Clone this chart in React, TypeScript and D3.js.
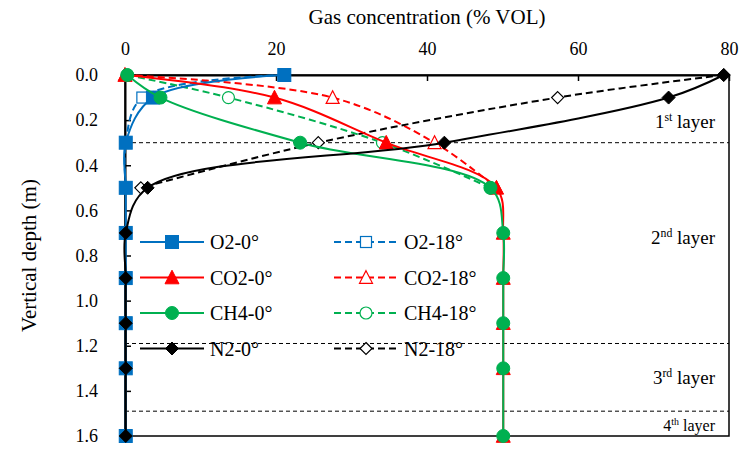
import { useEffect, useRef } from 'react'
import * as d3 from 'd3'

// depths (m) where samples were taken
const depths0 = [0, 0.1, 0.3, 0.5, 0.7, 0.9, 1.1, 1.3, 1.6]
const depths18 = [0, 0.1, 0.3, 0.5]

// 0° series (% VOL)
const o2_0 = [21.1, 3.7, 0.1, 0.1, 0.1, 0.1, 0.1, 0.1, 0.1]
const co2_0 = [0, 19.8, 34.6, 49.2, 50.1, 50.1, 50.1, 50.1, 50.1]
const ch4_0 = [0.3, 4.7, 23.2, 48.4, 50.1, 50.1, 50.1, 50.1, 50.1]
const n2_0 = [79.3, 72.0, 42.3, 3.0, 0.1, 0.1, 0.1, 0.1, 0.1]

// 18° series (% VOL)
const o2_18 = [21.1, 2.3, 0.1, 0.1]
const co2_18 = [0, 27.5, 41.0, 49.2]
const ch4_18 = [0.3, 13.7, 34.1, 48.4]
const n2_18 = [79.3, 57.3, 25.6, 2.1]

const xTicks = [0, 20, 40, 60, 80]
const yTicks = [0, 0.2, 0.4, 0.6, 0.8, 1.0, 1.2, 1.4, 1.6]
const layerBounds = [0.3, 1.19, 1.49]

type Shape = 'square' | 'triangle' | 'circle' | 'diamond'
interface Series { name: string; depth: number[]; values: number[]; color: string; shape: Shape; filled: boolean }

const BLUE = '#0070C0'
const RED = '#FF0000'
const GREEN = '#00B050'
const BLACK = '#000000'
const FONT = "'Liberation Serif', 'Times New Roman', Times, serif"

const series: Series[] = [
  { name: 'O2-18°', depth: depths18, values: o2_18, color: BLUE, shape: 'square', filled: false },
  { name: 'CO2-18°', depth: depths18, values: co2_18, color: RED, shape: 'triangle', filled: false },
  { name: 'CH4-18°', depth: depths18, values: ch4_18, color: GREEN, shape: 'circle', filled: false },
  { name: 'N2-18°', depth: depths18, values: n2_18, color: BLACK, shape: 'diamond', filled: false },
  { name: 'O2-0°', depth: depths0, values: o2_0, color: BLUE, shape: 'square', filled: true },
  { name: 'CO2-0°', depth: depths0, values: co2_0, color: RED, shape: 'triangle', filled: true },
  { name: 'CH4-0°', depth: depths0, values: ch4_0, color: GREEN, shape: 'circle', filled: true },
  { name: 'N2-0°', depth: depths0, values: n2_0, color: BLACK, shape: 'diamond', filled: true },
]

const legendOrder = ['O2-0°', 'O2-18°', 'CO2-0°', 'CO2-18°', 'CH4-0°', 'CH4-18°', 'N2-0°', 'N2-18°']

function drawMarker(g: any, s: Series, x: number, y: number) {
  const fill = s.filled ? s.color : '#fff'
  const sw = s.filled ? 1 : 1.2
  if (s.shape === 'square') {
    const a = s.filled ? 13 : 11
    g.append('rect').attr('x', x - a / 2).attr('y', y - a / 2).attr('width', a).attr('height', a)
      .attr('fill', fill).attr('stroke', s.color).attr('stroke-width', sw)
  } else if (s.shape === 'circle') {
    g.append('circle').attr('cx', x).attr('cy', y).attr('r', s.filled ? 6.5 : 6)
      .attr('fill', fill).attr('stroke', s.color).attr('stroke-width', sw)
  } else if (s.shape === 'triangle') {
    const a = s.filled ? 14 : 13
    const h = a * 0.9
    g.append('path').attr('d', `M${x},${y - h / 2 - 1}L${x + a / 2},${y + h / 2}L${x - a / 2},${y + h / 2}Z`)
      .attr('fill', fill).attr('stroke', s.color).attr('stroke-width', sw)
  } else {
    const r = s.filled ? 6.5 : 6
    g.append('path').attr('d', `M${x},${y - r}L${x + r},${y}L${x},${y + r}L${x - r},${y}Z`)
      .attr('fill', fill).attr('stroke', s.color).attr('stroke-width', sw)
  }
}

function Chart() {
  const svgRef = useRef<SVGSVGElement>(null)

  useEffect(() => {
    if (!svgRef.current) return
    const svg = d3.select(svgRef.current)
    svg.selectAll('*').remove()

    const W = 742
    const H = 449
    const margin = { top: 75, right: 13, bottom: 13, left: 125 }
    const w = W - margin.left - margin.right
    const h = H - margin.top - margin.bottom

    const x = d3.scaleLinear().domain([0, 80]).range([0, w])
    const y = d3.scaleLinear().domain([0, 1.6]).range([0, h])

    const g = svg.append('g').attr('transform', `translate(${margin.left},${margin.top})`)

    // frame
    g.append('rect').attr('width', w).attr('height', h).attr('fill', 'none').attr('stroke', '#000').attr('stroke-width', 1.5)

    // layer boundaries
    layerBounds.forEach((d) => {
      g.append('line').attr('x1', 0).attr('x2', w).attr('y1', y(d)).attr('y2', y(d))
        .attr('stroke', '#000').attr('stroke-width', 1).attr('stroke-dasharray', '4,3')
    })

    // top axis, ticks pointing inward
    const xAxis = d3.axisTop(x).tickValues(xTicks).tickSizeInner(-6).tickSizeOuter(0).tickPadding(20)
      .tickFormat((d) => `${d}`)
    const xa = g.append('g').call(xAxis).attr('font-family', null)
    xa.select('.domain').attr('stroke-width', 2)
    xa.selectAll('line').attr('stroke-width', 1.5)
    xa.selectAll('text').style('font-family', FONT).style('font-size', '18px').attr('fill', '#000')

    // left axis
    const yAxis = d3.axisLeft(y).tickValues(yTicks).tickSizeInner(-6).tickSizeOuter(0).tickPadding(27)
      .tickFormat((d) => (+d).toFixed(1))
    const ya = g.append('g').call(yAxis).attr('font-family', null)
    ya.select('.domain').attr('stroke-width', 2)
    ya.selectAll('line').attr('stroke-width', 1.5)
    ya.selectAll('text').style('font-family', FONT).style('font-size', '18px').attr('fill', '#000')

    // axis titles
    svg.append('text').attr('x', margin.left + w / 2).attr('y', 24).attr('text-anchor', 'middle')
      .style('font-family', FONT).style('font-size', '21px').text('Gas concentration (% VOL)')
    svg.append('text').attr('transform', `translate(36,${margin.top + h / 2}) rotate(-90)`).attr('text-anchor', 'middle')
      .style('font-family', FONT).style('font-size', '21px').text('Vertical depth (m)')

    // layer labels
    const layers = [
      { n: '1', sup: 'st', at: 0.235, size: 19 },
      { n: '2', sup: 'nd', at: 0.75, size: 19 },
      { n: '3', sup: 'rd', at: 1.37, size: 19 },
      { n: '4', sup: 'th', at: 1.578, size: 16 },
    ]
    layers.forEach((l) => {
      const t = g.append('text').attr('x', w - 14).attr('y', y(l.at)).attr('text-anchor', 'end')
        .style('font-family', FONT).style('font-size', `${l.size}px`)
      t.append('tspan').text(l.n)
      t.append('tspan').style('font-size', `${l.size * 0.62}px`).attr('dy', -l.size * 0.38).text(l.sup)
      t.append('tspan').attr('dy', l.size * 0.38).text(' layer')
    })

    // series: smoothed lines with markers
    const line = d3.line<[number, number]>().x((d) => x(d[0])).y((d) => y(d[1])).curve(d3.curveCatmullRom.alpha(0.5))
    series.forEach((s) => {
      const pts: [number, number][] = s.values.map((v, i) => [v, s.depth[i]])
      g.append('path').attr('d', line(pts)).attr('fill', 'none').attr('stroke', s.color).attr('stroke-width', 2)
        .attr('stroke-dasharray', s.filled ? null : '7,4')
      const mg = g.append('g')
      pts.forEach((p) => drawMarker(mg, s, x(p[0]), y(p[1])))
    })

    // legend
    const lg = svg.append('g').attr('transform', 'translate(140,242)')
    legendOrder.forEach((name, i) => {
      const s = series.find((d) => d.name === name)!
      const col = i % 2
      const row = Math.floor(i / 2)
      const item = lg.append('g').attr('transform', `translate(${col * 194},${row * 35.5})`)
      item.append('line').attr('x1', 0).attr('x2', 64).attr('y1', 0).attr('y2', 0)
        .attr('stroke', s.color).attr('stroke-width', 2).attr('stroke-dasharray', s.filled ? null : '7,4')
      drawMarker(item, s, 32, 0)
      item.append('text').attr('x', 70).attr('y', 7).style('font-family', FONT).style('font-size', '20px').text(s.name)
    })
  }, [])

  return (
    <svg ref={svgRef} width={742} height={449}
      style={{ position: 'absolute', left: 0, top: 0, background: '#fff', fontFamily: FONT }} />
  )
}

export default function App() {
  return <Chart />
}
